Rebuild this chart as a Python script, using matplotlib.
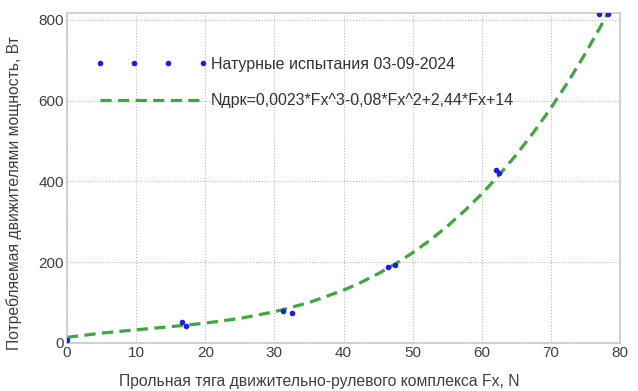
import matplotlib
matplotlib.use("Agg")
import matplotlib.pyplot as plt

plt.rcParams['font.family'] = ['Liberation Sans', 'DejaVu Sans']

# measured points
fx_meas = [0, 16.7, 17.2, 31.2, 32.5, 46.5, 47.5, 62.0, 62.5, 77.0, 78.3]
n_meas = [8, 52, 42, 78, 74, 188, 194, 428, 420, 815, 815]

# fitted curve values
fx_fit = [0, 5, 10, 15, 20, 25, 30, 35, 40, 42.5, 45, 47.5, 50, 52.5, 55, 57.5,
          60, 62.5, 65, 67.5, 70, 72.5, 75, 77.5, 80]
n_fit = [14, 24.5, 32.7, 40.4, 49.2, 60.9, 77.3, 100, 130.8, 149.8, 171.4, 195.9,
         223.5, 254.4, 288.9, 327.1, 369.2, 415.5, 466.2, 521.6, 581.7, 646.9,
         717.3, 793.2, 874.8]

label_meas = "Натурные испытания 03-09-2024"
label_fit = "Nдрк=0,0023*Fx^3-0,08*Fx^2+2,44*Fx+14"
xlabel = "Прольная тяга движительно-рулевого комплекса Fx, N"
ylabel = "Потребляемая движителями мощность, Вт"
xticks = [0, 10, 20, 30, 40, 50, 60, 70, 80]
yticks = [0, 200, 400, 600, 800]

fig = plt.figure(figsize=(6.38, 3.91), dpi=100)
ax = fig.add_axes([67/638, 1 - 343/391, 553/638, 330/391])

ax.plot(fx_meas, n_meas, ls='none', marker='o', ms=3.0, color='#1a1aff', label=label_meas, zorder=3)
ax.plot(fx_fit, n_fit, ls=(0, (3.5, 2)), lw=2.3, color='#3da83d', label=label_fit, zorder=2)

ax.set_xlim(0, 80)
ax.set_ylim(0, 817)
ax.set_xticks(xticks)
ax.set_yticks(yticks)
ax.grid(True, ls=':', color='#b8b8b8', lw=0.8)
for s in ax.spines.values():
    s.set_color('#c8c8c8')
    s.set_linewidth(1.2)
ax.tick_params(length=0, pad=2, labelsize=11, colors='#404040')
ax.set_xlabel(xlabel, fontsize=11.3, color='#404040')
ax.set_ylabel(ylabel, fontsize=11.3, color='#404040')
ax.xaxis.set_label_coords(0.456, -0.095)
ax.yaxis.set_label_coords(-0.082, 0.455)

leg = ax.legend(loc='upper left', bbox_to_anchor=(0.040, 0.887), frameon=False,
                numpoints=4, handlelength=7.0, handletextpad=0.2,
                labelspacing=1.35, fontsize=11.5, borderaxespad=0)
for t in leg.get_texts():
    t.set_color('#333333')

fig.savefig("out.png", dpi=100)
